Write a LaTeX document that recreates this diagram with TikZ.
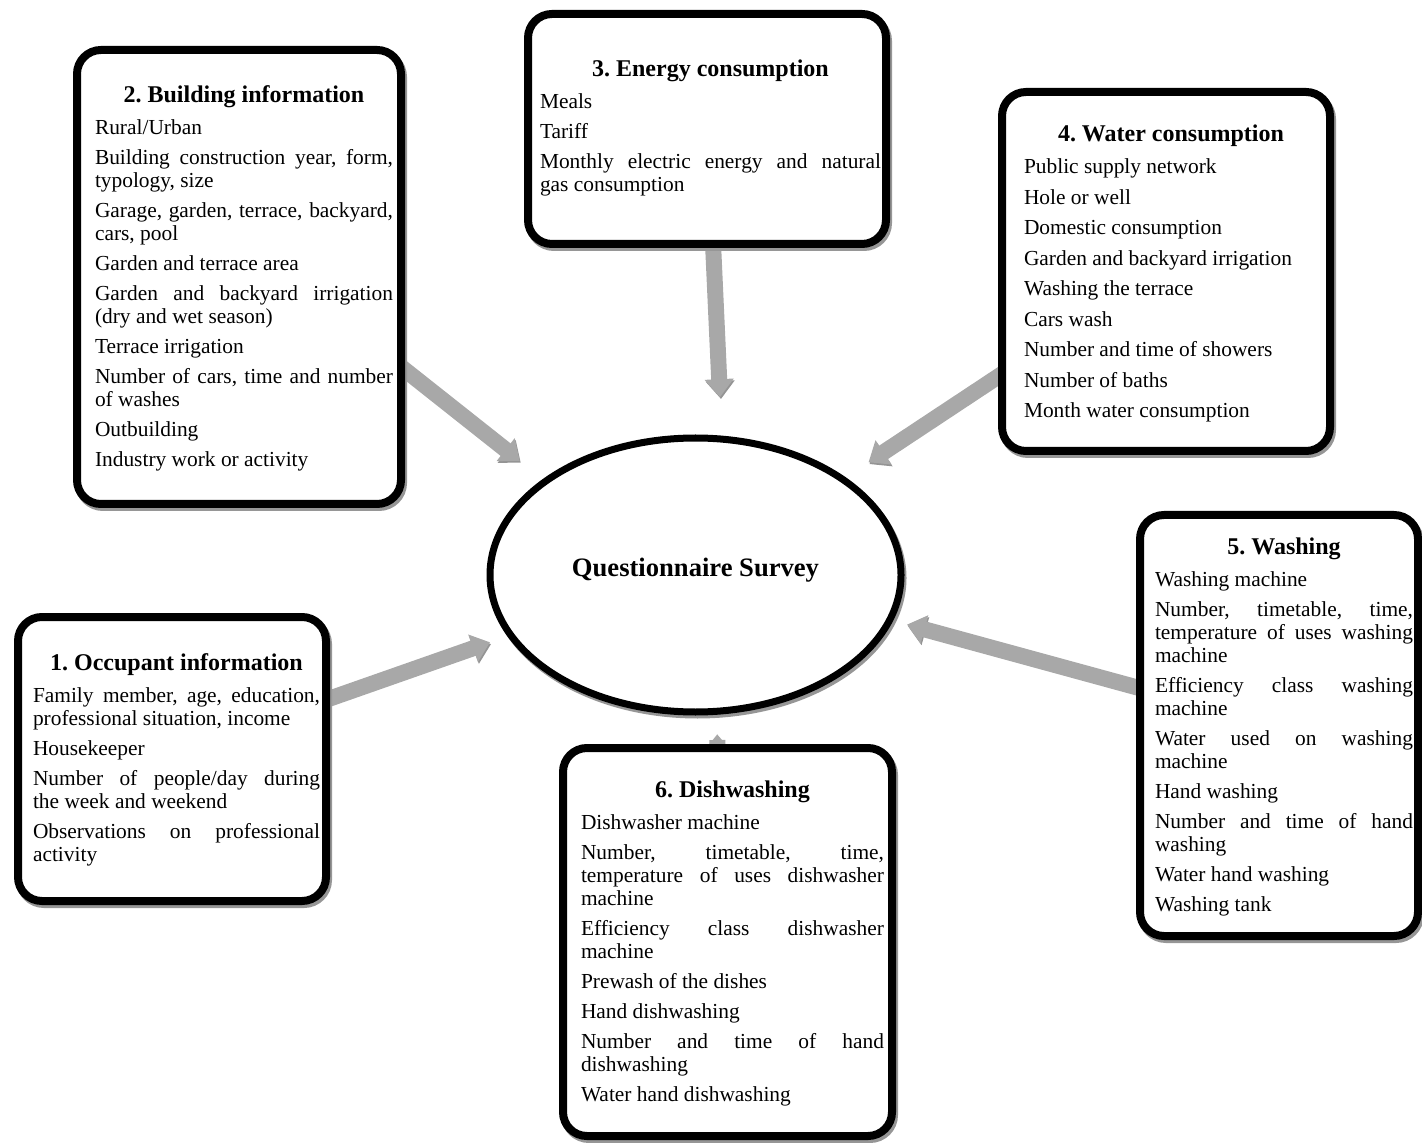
\documentclass[tikz,border=0pt]{standalone}
\usepackage{fontspec}
\setmainfont{Liberation Serif}
\usetikzlibrary{arrows.meta,shapes.geometric,shadows,backgrounds}
\definecolor{flowgray}{RGB}{168,168,168}
\definecolor{flowshade}{RGB}{148,148,148}
\definecolor{shadegray}{RGB}{150,150,150}
\frenchspacing
\newcommand{\itemfont}{\fontsize{10.7}{11.5}\selectfont\setlength{\parskip}{3.5pt}\hyphenpenalty=10000\tolerance=10000}
\newcommand{\boxhead}[1]{{\centering\bfseries\fontsize{12}{14}\selectfont #1\par}\vspace{1pt}}
\tikzset{
  topic/.style = { draw, line width=4pt, fill=white, rounded corners=12pt, outer sep=0pt,
                   drop shadow={shadow xshift=1pt, shadow yshift=-1.5pt, fill=shadegray,
                                draw=shadegray, line width=4pt, opacity=1} },
  hub/.style   = { draw, ellipse, line width=3.5pt, fill=white, inner sep=0pt, outer sep=0pt,
                   minimum width=205.5pt, minimum height=137pt, text depth=8pt,
                   font=\fontsize{13.3}{15}\selectfont\bfseries,
                   drop shadow={shadow xshift=1pt, shadow yshift=-1.5pt, fill=shadegray,
                                draw=shadegray, line width=3.5pt, opacity=1} },
  items/.style = { text width=#1, align=justify, inner sep=0pt, anchor=north, font=\itemfont },
  flow/.style  = { line width=8pt, draw=flowgray, shorten <=-4pt,
                   -{Triangle[width=14pt,length=9pt]},
                   preaction={draw=flowshade, transform canvas={xshift=0.5pt,yshift=-0.9pt}} }
}

\begin{document}
\begin{tikzpicture}[x=0.5pt,y=-0.5pt]
    \useasboundingbox (0,0) rectangle (1422,1143);

    \node[hub] (survey) at (695.5,575) {Questionnaire Survey};

    \node[topic, minimum width=154pt,   minimum height=142pt]   (b1) at (172,759)    {};
    \node[topic, minimum width=162pt,   minimum height=227pt]   (b2) at (239,277)    {};
    \node[topic, minimum width=179pt,   minimum height=115pt]   (b3) at (707,129)    {};
    \node[topic, minimum width=164pt,   minimum height=179.5pt] (b4) at (1166,271.5) {};
    \node[topic, minimum width=139pt,   minimum height=210.5pt] (b5) at (1279,725.5) {};
    \node[topic, minimum width=164.5pt, minimum height=194pt]   (b6) at (727.5,942)  {};

    \begin{pgfonlayer}{background}
      \draw[flow, shorten >=11pt]   (b1.21)  -- (survey.198);
      \draw[flow, shorten >=16.5pt] (b2.-29) -- (survey.148.7);
      \draw[flow, shorten >=21pt]   (b3.-87) -- (survey.79);
      \draw[flow, shorten >=15.5pt] (b4.212) -- (survey.33.2);
      \draw[flow, shorten >=9pt]    (b5.165) -- (survey.-13.5);
      \draw[flow, shorten >=11.5pt] (b6.93)  -- (survey.-81);
    \end{pgfonlayer}

    \node[items=143.5pt] (t1) at (176.5,653) {\boxhead{1. Occupant information}
      Family member, age, education,\linebreak professional situation, income\par
      Housekeeper\par
      Number of people/day during\linebreak the week and weekend\par
      Observations on professional\linebreak activity};

    \node[items=149pt] (t2) at (244,85) {\boxhead{2. Building information}
      Rural/Urban\par
      Building construction year, form,\linebreak typology, size\par
      Garage, garden, terrace, backyard,\linebreak cars, pool\par
      Garden and terrace area\par
      Garden and backyard irrigation\linebreak (dry and wet season)\par
      Terrace irrigation\par
      Number of cars, time and number\linebreak of washes\par
      Outbuilding\par
      Industry work or activity};

    \node[items=170.5pt] (t3) at (710.5,59) {\boxhead{3. Energy consumption}
      Meals\par
      Tariff\par
      Monthly electric energy and natural\linebreak gas consumption};

    \node[items=147pt, font=\itemfont\setlength{\parskip}{3.75pt}] (t4) at (1171,124) {\boxhead{4. Water consumption}
      Public supply network\par
      Hole or well\par
      Domestic consumption\par
      Garden and backyard irrigation\par
      Washing the terrace\par
      Cars wash\par
      Number and time of showers\par
      Number of baths\par
      Month water consumption};

    \node[items=129pt] (t5) at (1284,537) {\boxhead{5. Washing}
      Washing machine\par
      Number, timetable, time,\linebreak temperature of uses washing\linebreak machine\par
      Efficiency class washing\linebreak machine\par
      Water used on washing\linebreak machine\par
      Hand washing\par
      Number and time of hand\linebreak washing\par
      Water hand washing\par
      Washing tank};

    \node[items=151.5pt] (t6) at (732.5,780) {\boxhead{6. Dishwashing}
      Dishwasher machine\par
      Number, timetable, time,\linebreak temperature of uses dishwasher\linebreak machine\par
      Efficiency class dishwasher\linebreak machine\par
      Prewash of the dishes\par
      Hand dishwashing\par
      Number and time of hand\linebreak dishwashing\par
      Water hand dishwashing};
\end{tikzpicture}
\end{document}
